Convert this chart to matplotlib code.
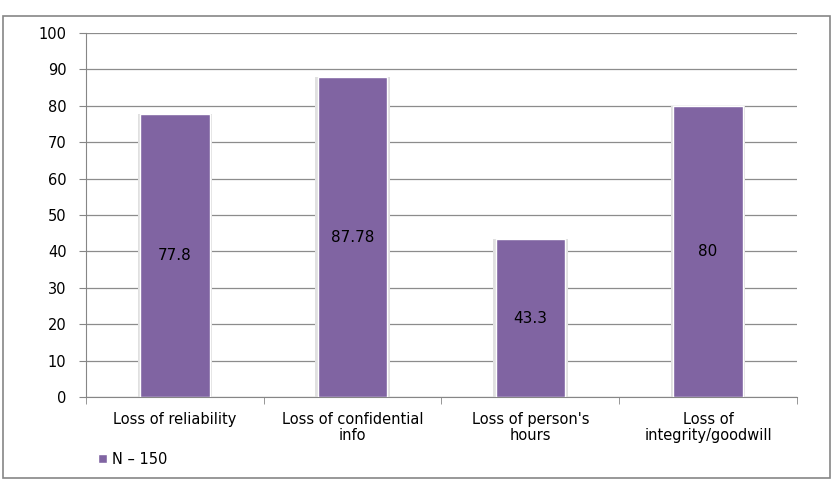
import numpy as np
import matplotlib.pyplot as plt
from matplotlib.patches import Rectangle

categories = ["Loss of reliability", "Loss of confidential\ninfo",
              "Loss of person's\nhours", "Loss of\nintegrity/goodwill"]
values = [77.8, 87.78, 43.3, 80]
value_labels = ["77.8", "87.78", "43.3", "80"]
series_name = "N \u2013 150"
yticks = list(range(0, 101, 10))

purple = "#8064A2"
gray = "#868686"

fig = plt.figure(figsize=(8.34, 4.82), dpi=100)
# outer chart border
fig.patches.append(Rectangle((0.003, 0.008), 0.992, 0.958, transform=fig.transFigure,
                             fill=False, edgecolor=gray, linewidth=1.2))

ax = fig.add_axes([0.1031, 0.1763, 0.8525, 0.7552])
x = np.arange(len(categories))

# soft shadow around bars
ax.bar(x, values, width=0.42, color="#e0e0e0", zorder=2)
bars = ax.bar(x, values, width=0.39, color=purple, edgecolor="white", linewidth=1.0, zorder=3)

for b, v, lab in zip(bars, values, value_labels):
    ax.text(b.get_x() + b.get_width() / 2, v / 2, lab, ha="center", va="center",
            fontsize=11, color="black", family="DejaVu Sans", zorder=4)

ax.set_xlim(-0.5, len(categories) - 0.5)
ax.set_ylim(0, 100)
ax.set_yticks(yticks)
ax.set_yticklabels([str(t) for t in yticks], fontsize=10.5, family="DejaVu Sans")
ax.yaxis.grid(True, color="#8c8c8c", linewidth=0.9, zorder=0)
ax.set_axisbelow(True)

ax.set_xticks(x)
ax.set_xticklabels(categories, fontsize=10.5, family="DejaVu Sans", linespacing=1.05)
ax.tick_params(axis="x", length=0, pad=11)
ax.set_xticks(np.arange(-0.5, len(categories)), minor=True)
ax.tick_params(axis="x", which="minor", length=5, color=gray, direction="out")
ax.tick_params(axis="y", length=5, color=gray, direction="out", pad=9)

for s in ["top", "right"]:
    ax.spines[s].set_visible(False)
ax.spines["left"].set_color(gray)
ax.spines["bottom"].set_color(gray)

ax.legend([bars], [series_name], loc="center left", bbox_to_anchor=(0.118, 0.047),
          bbox_transform=fig.transFigure, frameon=False, handlelength=0.6,
          handleheight=0.6, handletextpad=0.3, borderpad=0, borderaxespad=0,
          prop={"family": "DejaVu Sans", "size": 10.5})

plt.savefig("out.png", dpi=100)
